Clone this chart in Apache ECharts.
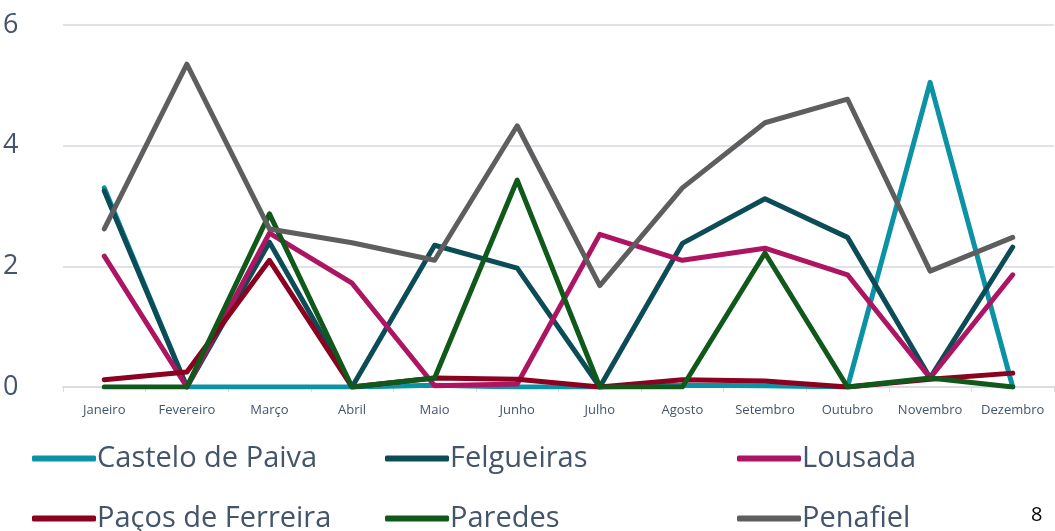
<!DOCTYPE html>
<html>
<head>
<meta charset="utf-8">
<script src="https://cdn.jsdelivr.net/npm/echarts@6/dist/echarts.min.js"></script>
<style>
  html, body { margin: 0; padding: 0; background: #fff; }
  #chart { width: 1055px; height: 531px; }
  #page { position: absolute; left: 1031px; top: 500px; font: 20px 'Open Sans', sans-serif; color: #000; }
</style>
</head>
<body>
<div id="chart"></div>
<div id="page">8</div>
<script>
// meses
const months = ['Janeiro', 'Fevereiro', 'Março', 'Abril', 'Maio', 'Junho', 'Julho', 'Agosto', 'Setembro', 'Outubro', 'Novembro', 'Dezembro'];
const yTicks = [0, 2, 4, 6];

// valores por concelho
const castelo = [3.3, 0, 0, 0, 0.03, 0, 0, 0.03, 0.02, 0, 5.05, 0];
const felgueiras = [3.25, 0, 2.4, 0, 2.35, 1.97, 0, 2.38, 3.12, 2.48, 0.15, 2.32];
const lousada = [2.17, 0, 2.55, 1.72, 0.02, 0.05, 2.53, 2.1, 2.3, 1.86, 0.15, 1.86];
const pacos = [0.12, 0.25, 2.1, 0, 0.15, 0.13, 0, 0.12, 0.1, 0, 0.13, 0.23];
const paredes = [0, 0, 2.87, 0, 0.15, 3.43, 0, 0, 2.22, 0, 0.15, 0];
const penafiel = [2.62, 5.35, 2.62, 2.39, 2.1, 4.33, 1.68, 3.3, 4.38, 4.77, 1.92, 2.48];

const names = ['Castelo de Paiva', 'Felgueiras', 'Lousada', 'Paços de Ferreira', 'Paredes', 'Penafiel'];
const values = [castelo, felgueiras, lousada, pacos, paredes, penafiel];
const colors = ['#0b92a5', '#0b4c57', '#ad1461', '#8c0020', '#10591a', '#5e5e5e'];

const chart = echarts.init(document.getElementById('chart'));

// legenda em grelha 3x2
const legendPos = [[27, 439], [380, 439], [732, 439], [27, 499], [380, 499], [732, 499]];
const legends = names.map((n, i) => ({
  data: [n],
  left: legendPos[i][0],
  top: legendPos[i][1],
  icon: 'roundRect',
  itemWidth: 64,
  itemHeight: 6,
  itemGap: 0,
  textStyle: { fontSize: 29, color: '#44546a', fontFamily: 'Open Sans', padding: [0, 0, 0, -4] }
}));

chart.setOption({
  animation: false,
  color: colors,
  legend: legends,
  grid: { left: 63, right: 1, top: 25, bottom: 144 },
  xAxis: {
    type: 'category',
    data: months,
    boundaryGap: true,
    axisLine: { lineStyle: { color: '#d9dce3', width: 2 } },
    axisTick: { show: true, length: 5, lineStyle: { color: '#d9dce3', width: 1 } },
    axisLabel: { color: '#44546a', fontSize: 13, fontFamily: 'Open Sans', margin: 17, interval: 0 }
  },
  yAxis: {
    type: 'value',
    min: yTicks[0],
    max: yTicks[yTicks.length - 1],
    interval: 2,
    axisLine: { show: false },
    axisTick: { show: false },
    splitLine: { lineStyle: { color: '#dfe2e8', width: 2 } },
    axisLabel: { color: '#44546a', fontSize: 27, fontFamily: 'Open Sans', margin: 30, align: 'left', padding: [0, 0, 0, -30] }
  },
  series: names.map((n, i) => ({
    name: n,
    type: 'line',
    data: values[i],
    symbol: 'none',
    lineStyle: { width: 5, cap: 'round', join: 'round' }
  }))
});
</script>
</body>
</html>
